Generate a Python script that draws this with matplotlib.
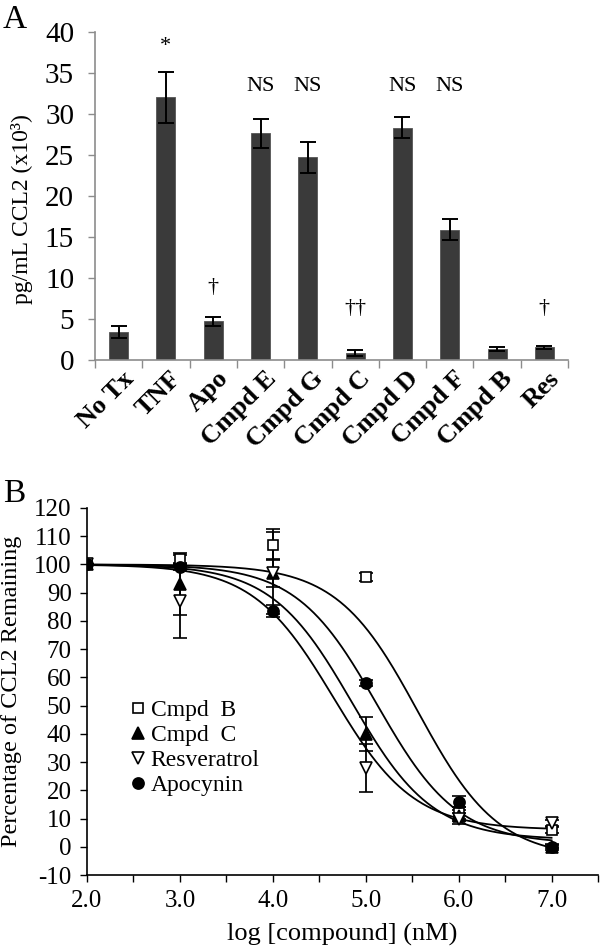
import matplotlib
matplotlib.use("Agg")
import matplotlib.pyplot as plt
import matplotlib.transforms as mtransforms
import numpy as np

plt.rcParams['font.family'] = ['Liberation Serif', 'DejaVu Serif']
plt.rcParams['axes.unicode_minus'] = False

# panel A data
cats = ['No Tx', 'TNF', 'Apo', 'Cmpd E', 'Cmpd G', 'Cmpd C', 'Cmpd D', 'Cmpd F', 'Cmpd B', 'Res']
ccl2 = [3.4, 32.0, 4.7, 27.6, 24.7, 0.85, 28.3, 15.9, 1.35, 1.55]
ccl2_err = [0.7, 3.1, 0.5, 1.8, 1.9, 0.35, 1.3, 1.3, 0.2, 0.2]
marks = ['', '*', '†', 'NS', 'NS', '††', 'NS', 'NS', '', '†']
mark_y = [0, 38.2, 8.8, 33.3, 33.3, 6.3, 33.3, 33.3, 0, 6.3]

# panel B data
logc = [2.0, 3.0, 4.0, 5.0, 6.0, 7.0]
cmpd_b = [100, 102, 107, 95.5, 12, 6]
cmpd_b_err = [0, 1.5, 5.5, 1.5, 2, 1]
cmpd_c = [100, 93, 97, 40, 11, 0]
cmpd_c_err = [0, 11, 5, 6, 2, 0.5]
resv = [100, 87, 97, 28, 10, 8.5]
resv_err = [0, 13, 14.5, 8.5, 2, 1]
apoc = [100, 99, 83.5, 58, 16, 0]
apoc_err = [0, 1, 2, 1, 2, 1]

# 4PL fit parameters (top, bottom, logIC50, hill) for each compound
fit_top = [100, 100, 100, 100]
fit_bottom = [-4, 2.5, 6, 1]
fit_logic50 = [5.56, 4.85, 4.65, 5.12]
fit_hill = [1.0, 1.0, 1.0, 1.0]

fig = plt.figure(figsize=(6, 9.46), dpi=100)

# ---------------- panel A
axA = fig.add_axes([95/600, 586/946, 473/600, 328.3/946])
x = np.arange(len(cats))
axA.bar(x, ccl2, width=0.4, color='#3a3a3a', edgecolor='#555555', linewidth=0.6, zorder=2)
axA.errorbar(x, ccl2, yerr=ccl2_err, fmt='none', ecolor='black', elinewidth=1.4,
             capsize=6, capthick=1.4, zorder=3)
for i in range(len(cats)):
    if marks[i]:
        axA.text(x[i], mark_y[i], marks[i], ha='center', va='center', fontsize=16)

axA.set_xlim(-0.5, len(cats) - 0.5)
axA.set_ylim(0, 40)
axA.set_yticks(np.arange(0, 41, 5))
axA.tick_params(axis='y', labelsize=21, length=5, width=1, color='#8c8c8c', pad=10)
axA.set_xticks(x)
axA.set_xticklabels(cats, rotation=45, ha='right', va='top', fontsize=19, fontweight='bold')
axA.set_xticks(np.arange(-0.5, len(cats)), minor=True)
axA.tick_params(axis='x', which='major', length=0, pad=5)
axA.tick_params(axis='x', which='minor', length=6, width=1, color='#8c8c8c')
offset = mtransforms.ScaledTranslation(0.2, 0, fig.dpi_scale_trans)
for lab in axA.get_xticklabels():
    lab.set_transform(lab.get_transform() + offset)
for s in ['top', 'right']:
    axA.spines[s].set_visible(False)
for s in ['left', 'bottom']:
    axA.spines[s].set_color('#8c8c8c')
    axA.spines[s].set_linewidth(1.2)
axA.set_ylabel('pg/mL CCL2 (x10³)', fontsize=17)
axA.yaxis.set_label_coords(-0.131, 0.46)
fig.text(15/600, 1 - 20/946, 'A', fontsize=24, ha='center', va='center')

# ---------------- panel B
axB = fig.add_axes([87/600, 71/946, 511/600, 367/946])
xs = np.linspace(2.0, 7.0, 300)
for t, b, ic, h in zip(fit_top, fit_bottom, fit_logic50, fit_hill):
    axB.plot(xs, b + (t - b) / (1 + 10 ** ((xs - ic) * h)), color='black', lw=1.3, zorder=2)

series = [
    (cmpd_b, cmpd_b_err, 's', 'white', 'Cmpd  B', 7),
    (cmpd_c, cmpd_c_err, '^', 'black', 'Cmpd  C', 8),
    (resv, resv_err, 'v', 'white', 'Resveratrol', 8),
    (apoc, apoc_err, 'o', 'black', 'Apocynin', 8),
]
for y, e, m, fc, lab, ms in series:
    axB.errorbar(logc, y, yerr=e, fmt=m, mfc=fc, mec='black', ms=ms, mew=1.2,
                 ecolor='black', elinewidth=1.3, capsize=5, capthick=1.3,
                 label=lab, zorder=3)

axB.set_xlim(2.0, 7.5)
axB.set_ylim(-10, 120)
axB.set_yticks(np.arange(-10, 121, 10))
axB.set_xticks(np.arange(2, 8, 1.0))
axB.set_xticklabels([f'{v:.1f}' for v in np.arange(2, 8, 1.0)])
axB.set_xticks(np.arange(2, 7.6, 0.5), minor=True)
axB.tick_params(axis='both', which='both', labelsize=18, length=5, width=1, color='black')
axB.tick_params(axis='y', pad=6)
axB.tick_params(axis='x', pad=6)
for s in ['top', 'right']:
    axB.spines[s].set_visible(False)
for s in ['left', 'bottom']:
    axB.spines[s].set_linewidth(1.2)
axB.set_ylabel('Percentage of CCL2 Remaining', fontsize=17.5)
axB.yaxis.set_label_coords(-0.128, 0.5)
axB.set_xlabel('log [compound] (nM)', fontsize=19, labelpad=8)

handles, labels = axB.get_legend_handles_labels()
handles = [h[0] for h in handles]
axB.legend(handles, labels, loc='upper left', bbox_to_anchor=(0.06, 0.51), frameon=False,
           fontsize=17, handletextpad=0.2, handlelength=0.7, labelspacing=0.15, borderpad=0)
fig.text(14/600, 1 - 494/946, 'B', fontsize=24, ha='center', va='center')

fig.savefig('out.png', dpi=100)
